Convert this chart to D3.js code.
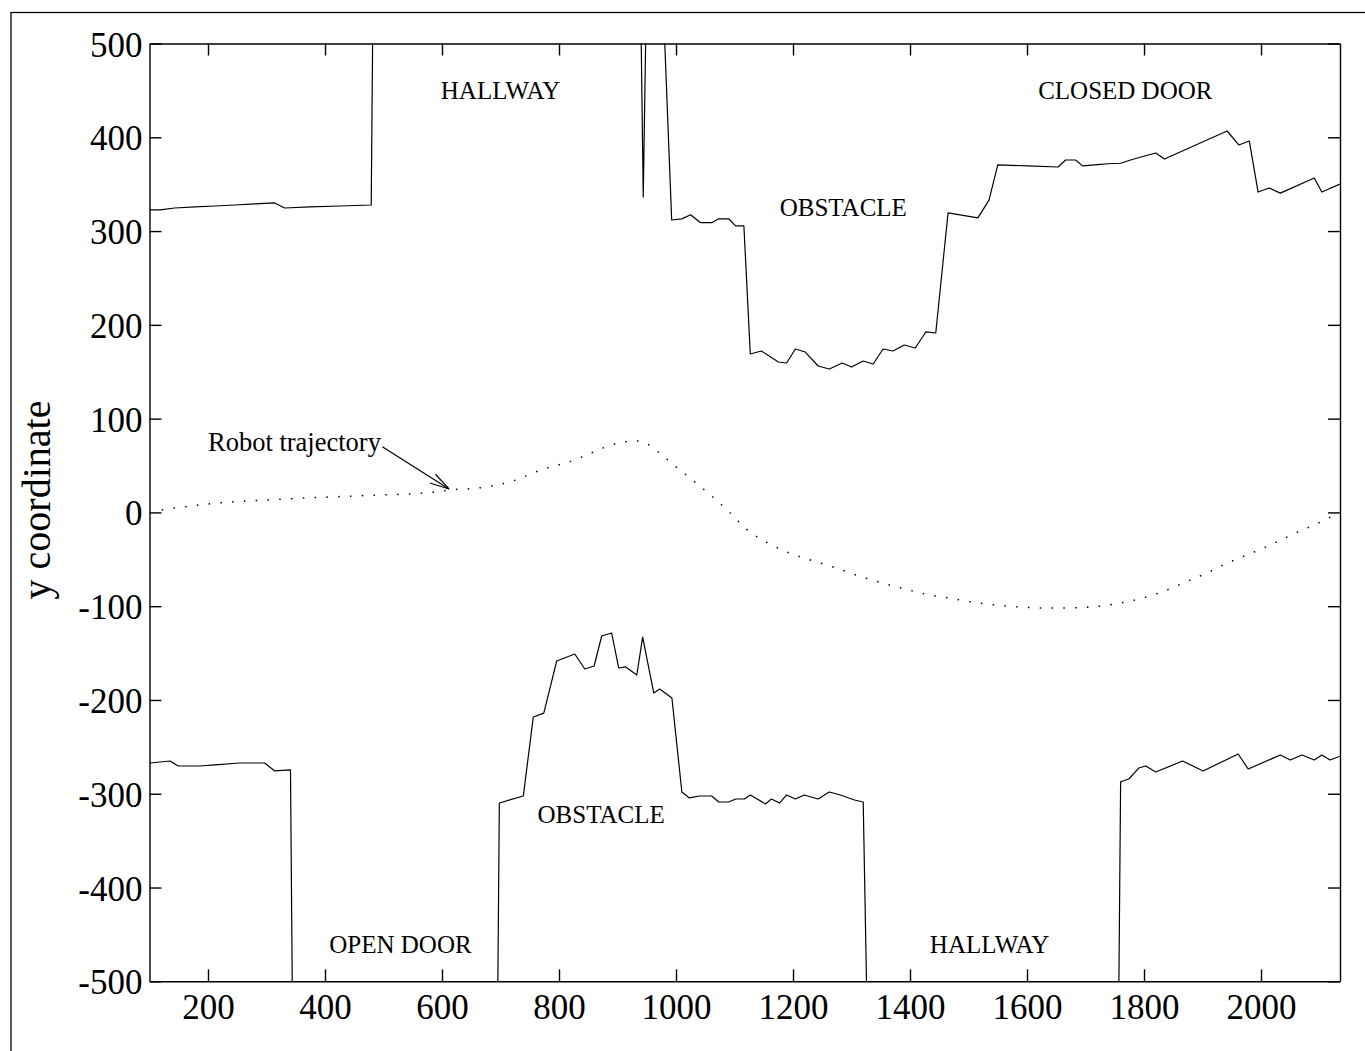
<!DOCTYPE html>
<html>
<head>
<meta charset="utf-8">
<script src="https://cdn.jsdelivr.net/npm/d3@7"></script>
<style>
  body { margin: 0; background: #fff; }
  svg { display: block; }
</style>
</head>
<body>
<svg id="chart"></svg>
<script>

// axis ticks
var xTicks = [200, 400, 600, 800, 1000, 1200, 1400, 1600, 1800, 2000];
var yTicks = [-500, -400, -300, -200, -100, 0, 100, 200, 300, 400, 500];

// upper wall (values beyond 500 are clipped by the axes)
var upperX = [101, 118, 143, 178, 212, 246, 280, 314, 331, 374, 425, 479, 483, 600, 800, 938, 944, 951, 972,
	992.6, 1010, 1025, 1042, 1061, 1073, 1090, 1102, 1116, 1127, 1146, 1175, 1189, 1204, 1221, 1243, 1262,
	1284, 1300, 1320, 1337, 1354, 1371, 1390, 1409, 1427, 1444, 1465, 1516, 1535, 1550, 1601, 1653, 1666,
	1683, 1695, 1721, 1738, 1760, 1777, 1801, 1820, 1835, 1942, 1962, 1980, 1995, 2014, 2033, 2091, 2104, 2135];
var upperY = [322.5, 322.5, 324.6, 325.7, 326.7, 327.8, 328.9, 330, 324.6, 325.7, 326.7, 327.8, 620, 650, 650, 620, 336.3, 620, 640,
	311.8, 313, 317.4, 308.9, 308.9, 313.1, 313.1, 305.6, 305.6, 168.9, 172.1, 160.4, 159.3, 174.2, 171, 156.1, 152.9,
	159.3, 155, 161.4, 158.2, 174.2, 172.1, 178.5, 175.3, 192.4, 191.3, 319.3, 314, 333, 370.6, 369.5, 368.3, 375.8,
	375.8, 369.5, 370.8, 371.8, 372.3, 375.8, 380, 383.2, 376.8, 406.7, 391.8, 396, 341.6, 345.9, 340.5, 356.5, 341.6, 350];

// lower wall (values below -500 are clipped)
var lowerX = [101, 135, 149, 186, 212, 254, 297, 314, 341, 346, 500, 693.5, 698, 739, 756, 774, 796, 827, 844, 860,
	873, 890, 902, 914, 933, 943, 962, 972, 993, 1010, 1023, 1040, 1061, 1073, 1090, 1102, 1117, 1127, 1153, 1163,
	1177, 1189, 1204, 1219, 1243, 1262, 1281, 1305, 1320, 1330, 1550, 1755, 1760, 1774, 1791, 1803, 1820, 1866,
	1901, 1961, 1978, 2033, 2050, 2070, 2091, 2104, 2118, 2135];
var lowerY = [-267.2, -265.1, -270.4, -270.4, -269.3, -267.2, -267.2, -275.7, -274.6, -650, -660, -650, -309.9, -302.4, -218.2, -214, -158.5, -151, -167, -163.8,
	-131.8, -128.6, -165.9, -164.8, -173.4, -132.9, -192.6, -188.3, -197.9, -298.1, -304.5, -302.4, -302.4, -308.8, -308.8, -305.6, -305.6, -301.3, -310.9, -305.6,
	-309.9, -301.3, -305.6, -301.3, -305.6, -298.1, -301.3, -306.7, -308.8, -650, -660, -650, -287.2, -284.3, -272.6, -270.4, -276.8, -265.1,
	-275.7, -257.6, -273.6, -258.7, -264, -258.7, -264, -258.7, -264, -260];

// robot trajectory
var trajX = [121, 200, 322, 462, 584, 612, 658, 717, 777, 817, 843, 871, 911, 931, 948, 965, 998, 1030, 1061, 1091,
	1120, 1154, 1190, 1230, 1269, 1308, 1347, 1386, 1426, 1466, 1506, 1547, 1588, 1628, 1669, 1710, 1751, 1791,
	1830, 1867, 1907, 1942, 1980, 2019, 2055, 2094, 2130];
var trajY = [2.6, 9, 14, 17.8, 21.4, 23.9, 25.7, 32.7, 47, 53.8, 60.1, 67.7, 75.1, 76.2, 74, 66.6, 49.5, 33.5, 17.5, 0.4,
	-17.7, -31.6, -42.3, -50.8, -58.3, -66.8, -74.3, -80.7, -87.1, -91.3, -95.6, -98.8, -100.9, -101.9, -101.9, -100.9, -97.7, -92.4,
	-84.9, -75.3, -64.7, -54, -44.4, -33.8, -23.2, -12.5, -1.7];

var width = 1365, height = 1051;
var plotLeft = 149.5, plotRight = 1340, plotTop = 43.5, plotBottom = 981.3;
var font = "'Liberation Serif', 'Times New Roman', serif";

var svg = d3.select("#chart")
	.attr("width", width)
	.attr("height", height);

svg.append("rect")
	.attr("width", width)
	.attr("height", height)
	.attr("fill", "#fff");

// outer figure frame
svg.append("rect")
	.attr("x", 11)
	.attr("y", 12.5)
	.attr("width", width + 20)
	.attr("height", height + 20)
	.attr("fill", "none")
	.attr("stroke", "#000")
	.attr("stroke-width", 1.3);

var x = d3.scaleLinear().domain([100, 2135]).range([plotLeft, plotRight]);
var y = d3.scaleLinear().domain([-500, 500]).range([plotBottom, plotTop]);

svg.append("clipPath")
	.attr("id", "plotClip")
	.append("rect")
	.attr("x", plotLeft)
	.attr("y", plotTop)
	.attr("width", plotRight - plotLeft)
	.attr("height", plotBottom - plotTop);

function pairs(xs, ys) {
	return xs.map(function(d, i) { return [d, ys[i]]; });
}

var line = d3.line()
	.x(function(d) { return x(d[0]); })
	.y(function(d) { return y(d[1]); });

var plot = svg.append("g").attr("clip-path", "url(#plotClip)");

plot.append("path")
	.datum(pairs(upperX, upperY))
	.attr("d", line)
	.attr("fill", "none")
	.attr("stroke", "#000")
	.attr("stroke-width", 1.2)
	.attr("stroke-linejoin", "round");

plot.append("path")
	.datum(pairs(lowerX, lowerY))
	.attr("d", line)
	.attr("fill", "none")
	.attr("stroke", "#000")
	.attr("stroke-width", 1.2)
	.attr("stroke-linejoin", "round");

var trajLine = d3.line()
	.curve(d3.curveMonotoneX)
	.x(function(d) { return x(d[0]); })
	.y(function(d) { return y(d[1]); });

plot.append("path")
	.datum(pairs(trajX, trajY))
	.attr("d", trajLine)
	.attr("fill", "none")
	.attr("stroke", "#000")
	.attr("stroke-width", 1.5)
	.attr("stroke-dasharray", "1.5,10.3");

// axes, ticks pointing inward on all four sides
var fmt = function(d) { return String(d); };

var gx = svg.append("g")
	.attr("transform", "translate(0," + plotBottom + ")")
	.call(d3.axisBottom(x).tickValues(xTicks).tickSizeInner(-12).tickSizeOuter(0).tickFormat(fmt));
gx.selectAll("text")
	.attr("y", 38)
	.attr("dy", null);

var gxTop = svg.append("g")
	.attr("transform", "translate(0," + plotTop + ")")
	.call(d3.axisTop(x).tickValues(xTicks).tickSizeInner(-12).tickSizeOuter(0).tickFormat(""));

var gy = svg.append("g")
	.attr("transform", "translate(" + plotLeft + ",0)")
	.call(d3.axisLeft(y).tickValues(yTicks).tickSizeInner(-12).tickSizeOuter(0).tickFormat(fmt));
gy.selectAll("text")
	.attr("x", -7)
	.attr("dy", "12.5");

var gyRight = svg.append("g")
	.attr("transform", "translate(" + plotRight + ",0)")
	.call(d3.axisRight(y).tickValues(yTicks).tickSizeInner(-12).tickSizeOuter(0).tickFormat(""));

svg.selectAll(".domain, .tick line")
	.attr("stroke", "#000")
	.attr("stroke-width", 1.4);

svg.selectAll(".tick text")
	.attr("fill", "#000")
	.style("font-family", font)
	.style("font-size", "35px");

// y label
svg.append("text")
	.attr("transform", "translate(50," + 500 + ") rotate(-90)")
	.attr("text-anchor", "middle")
	.style("font-family", font)
	.style("font-size", "40px")
	.text("y coordinate");

// region labels
function label(tx, ty, txt) {
	svg.append("text")
		.attr("x", x(tx))
		.attr("y", y(ty))
		.attr("text-anchor", "middle")
		.style("font-family", font)
		.style("font-size", "25px")
		.text(txt);
}
label(700, 440.8, "HALLWAY");
label(1768, 440.8, "CLOSED DOOR");
label(1286, 316.4, "OBSTACLE");
label(872, -331.5, "OBSTACLE");
label(529, -469.5, "OPEN DOOR");
label(1536, -469.5, "HALLWAY");

// trajectory annotation with open arrow
svg.append("text")
	.attr("x", x(200))
	.attr("y", y(65.8))
	.style("font-family", font)
	.style("font-size", "26.5px")
	.text("Robot trajectory");

var a0 = [x(498), y(70)], a1 = [x(612), y(25)];
var ang = Math.atan2(a0[1] - a1[1], a0[0] - a1[0]);
var headLen = 20, spread = 15 * Math.PI / 180;

svg.append("line")
	.attr("x1", a0[0]).attr("y1", a0[1])
	.attr("x2", a1[0]).attr("y2", a1[1])
	.attr("stroke", "#000")
	.attr("stroke-width", 1.2);

[ang - spread, ang + spread].forEach(function(t) {
	svg.append("line")
		.attr("x1", a1[0]).attr("y1", a1[1])
		.attr("x2", a1[0] + headLen * Math.cos(t))
		.attr("y2", a1[1] + headLen * Math.sin(t))
		.attr("stroke", "#000")
		.attr("stroke-width", 1.2);
});

</script>
</body>
</html>
